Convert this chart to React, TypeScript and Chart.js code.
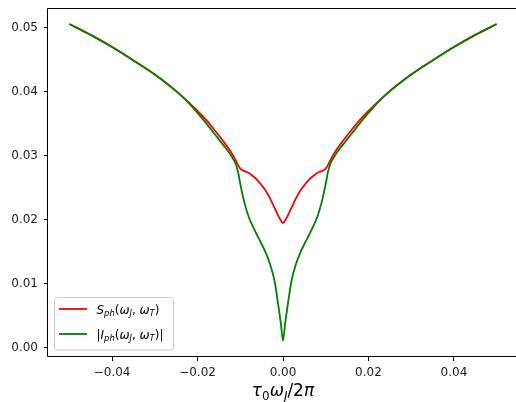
import React, { useEffect, useRef } from 'react';
import { Chart, registerables } from 'chart.js';

Chart.register(...registerables);

// τ0 ωJ / 2π values
const xValues = [
  -0.05, -0.045, -0.04, -0.035, -0.03, -0.025, -0.022, -0.02, -0.018, -0.016, -0.014, -0.012, -0.011, -0.0105,
  -0.01, -0.009, -0.008, -0.007, -0.006, -0.005, -0.004, -0.003, -0.002, -0.001, -0.0005, 0,
  0.0005, 0.001, 0.002, 0.003, 0.004, 0.005, 0.006, 0.007, 0.008, 0.009, 0.01,
  0.0105, 0.011, 0.012, 0.014, 0.016, 0.018, 0.02, 0.022, 0.025, 0.03, 0.035, 0.04, 0.045, 0.05,
];

// S_ph(ωJ, ωT)
const sphValues = [
  0.0506, 0.0489, 0.047, 0.0449, 0.0427, 0.0401, 0.0383, 0.037, 0.0356, 0.034, 0.0323, 0.0304, 0.0292, 0.0285,
  0.028, 0.0276, 0.0273, 0.0268, 0.0262, 0.0254, 0.0245, 0.0233, 0.0219, 0.0205, 0.0199, 0.0195,
  0.0199, 0.0205, 0.0219, 0.0233, 0.0245, 0.0254, 0.0262, 0.0268, 0.0273, 0.0276, 0.028,
  0.0285, 0.0292, 0.0304, 0.0323, 0.034, 0.0356, 0.037, 0.0383, 0.0401, 0.0427, 0.0449, 0.047, 0.0489, 0.0506,
];

// |I_ph(ωJ, ωT)|
const iphValues = [
  0.0506, 0.0489, 0.047, 0.0449, 0.0427, 0.0401, 0.0382, 0.0367, 0.0351, 0.0334, 0.0317, 0.0299, 0.0286, 0.0274,
  0.0256, 0.0226, 0.0204, 0.0189, 0.0175, 0.0162, 0.0148, 0.013, 0.0105, 0.0062, 0.0038, 0.0011,
  0.0038, 0.0062, 0.0105, 0.013, 0.0148, 0.0162, 0.0175, 0.0189, 0.0204, 0.0226, 0.0256,
  0.0274, 0.0286, 0.0299, 0.0317, 0.0334, 0.0351, 0.0367, 0.0382, 0.0401, 0.0427, 0.0449, 0.047, 0.0489, 0.0506,
];

const xTicks = [-0.04, -0.02, 0, 0.02, 0.04];
const yTicks = [0, 0.01, 0.02, 0.03, 0.04, 0.05];

type Seg = { t: string; it?: boolean; sub?: boolean };
const sphLabel: Seg[] = [
  { t: 'S', it: true }, { t: 'ph', it: true, sub: true }, { t: '(' }, { t: 'ω', it: true }, { t: 'J', it: true, sub: true },
  { t: ', ' }, { t: 'ω', it: true }, { t: 'T', it: true, sub: true }, { t: ')' },
];
const iphLabel: Seg[] = [
  { t: '|' }, { t: 'I', it: true }, { t: 'ph', it: true, sub: true }, { t: '(' }, { t: 'ω', it: true }, { t: 'J', it: true, sub: true },
  { t: ', ' }, { t: 'ω', it: true }, { t: 'T', it: true, sub: true }, { t: ')|' },
];
const xTitle: Seg[] = [
  { t: 'τ', it: true }, { t: '0', sub: true }, { t: 'ω', it: true }, { t: 'J', it: true, sub: true }, { t: '/2' }, { t: 'π', it: true },
];

const FONT = '"DejaVu Sans", sans-serif';

function segWidth(ctx: CanvasRenderingContext2D, segs: Seg[], size: number) {
  let w = 0;
  for (const s of segs) {
    const fs = s.sub ? size * 0.7 : size;
    ctx.font = `${s.it ? 'oblique ' : ''}${fs}px ${FONT}`;
    w += ctx.measureText(s.t).width;
  }
  return w;
}

function drawSegs(ctx: CanvasRenderingContext2D, segs: Seg[], x: number, y: number, size: number) {
  let cx = x;
  ctx.textBaseline = 'alphabetic';
  ctx.textAlign = 'left';
  for (const s of segs) {
    const fs = s.sub ? size * 0.7 : size;
    ctx.font = `${s.it ? 'oblique ' : ''}${fs}px ${FONT}`;
    ctx.fillText(s.t, cx, s.sub ? y + size * 0.22 : y);
    cx += ctx.measureText(s.t).width;
  }
}

const decorPlugin = {
  id: 'decor',
  afterDraw(chart: any) {
    const ctx: CanvasRenderingContext2D = chart.ctx;
    const a = chart.chartArea;
    ctx.save();
    // frame: left, top and bottom spines (right spine lies just past the visible edge)
    ctx.strokeStyle = '#000';
    ctx.lineWidth = 1;
    const L = Math.round(a.left) - 0.5;
    const T = Math.round(a.top) + 0.5;
    const B = Math.round(a.bottom) - 0.5;
    const R = chart.width;
    ctx.beginPath();
    ctx.moveTo(R, T);
    ctx.lineTo(L, T);
    ctx.lineTo(L, B);
    ctx.lineTo(R, B);
    ctx.stroke();

    // legend
    const lx = 54.5, ly = 297.5, lw = 119, lh = 52.5, r = 3;
    ctx.beginPath();
    ctx.moveTo(lx + r, ly);
    ctx.lineTo(lx + lw - r, ly);
    ctx.quadraticCurveTo(lx + lw, ly, lx + lw, ly + r);
    ctx.lineTo(lx + lw, ly + lh - r);
    ctx.quadraticCurveTo(lx + lw, ly + lh, lx + lw - r, ly + lh);
    ctx.lineTo(lx + r, ly + lh);
    ctx.quadraticCurveTo(lx, ly + lh, lx, ly + lh - r);
    ctx.lineTo(lx, ly + r);
    ctx.quadraticCurveTo(lx, ly, lx + r, ly);
    ctx.closePath();
    ctx.fillStyle = 'rgba(255,255,255,0.8)';
    ctx.fill();
    ctx.strokeStyle = '#cccccc';
    ctx.stroke();

    const entries: [string, Seg[], number][] = [
      ['#ff0000', sphLabel, 309],
      ['#008000', iphLabel, 334],
    ];
    for (const [col, segs, yy] of entries) {
      ctx.strokeStyle = col;
      ctx.lineWidth = 1.8;
      ctx.beginPath();
      ctx.moveTo(59, yy);
      ctx.lineTo(87, yy);
      ctx.stroke();
      ctx.fillStyle = '#000';
      drawSegs(ctx, segs, 96.5, yy + 4.5, 12);
    }

    // x title
    const size = 17;
    const w = segWidth(ctx, xTitle, size);
    const cxm = 283;
    drawSegs(ctx, xTitle, cxm - w / 2, 396, size);
    ctx.restore();
  },
};

export default function App() {
  const ref = useRef<HTMLCanvasElement>(null);
  useEffect(() => {
    const canvas = ref.current!;
    const fmt = (v: number) => {
      const s = Math.abs(v).toFixed(2);
      return v < -1e-9 ? '\u2212' + s : s;
    };
    const chart = new Chart(canvas, {
      type: 'line',
      data: {
        labels: xValues,
        datasets: [
          {
            label: 'S_ph',
            data: xValues.map((x, i) => ({ x, y: sphValues[i] })),
            borderColor: '#ff0000',
            borderWidth: 1.8,
            pointRadius: 0,
            cubicInterpolationMode: 'monotone',
            fill: false,
            order: 1,
          },
          {
            label: '|I_ph|',
            data: xValues.map((x, i) => ({ x, y: iphValues[i] })),
            borderColor: '#008000',
            borderWidth: 1.8,
            pointRadius: 0,
            cubicInterpolationMode: 'monotone',
            fill: false,
            order: 0,
          },
        ],
      },
      options: {
        animation: false,
        responsive: false,
        devicePixelRatio: 1,
        layout: { padding: { left: 0, top: 8, right: 0, bottom: 0 } },
        plugins: { legend: { display: false }, tooltip: { enabled: false } },
        scales: {
          x: {
            type: 'linear',
            min: -0.055,
            max: 0.05453,
            afterBuildTicks: (s: any) => { s.ticks = xTicks.map((v) => ({ value: v })); },
            afterFit: (s: any) => { s.height = 45; s.paddingLeft = 0; s.paddingRight = 0; },
            border: { display: false },
            grid: { display: true, drawOnChartArea: false, drawTicks: true, tickLength: 4, color: '#000', tickColor: '#000' },
            ticks: {
              padding: 5,
              maxRotation: 0,
              autoSkip: false,
              color: '#1a1a1a',
              font: { family: FONT, size: 12 },
              callback: (v: any) => fmt(Number(v)),
            },
          },
          y: {
            type: 'linear',
            min: -0.00145,
            max: 0.0531,
            afterBuildTicks: (s: any) => { s.ticks = yTicks.map((v) => ({ value: v })); },
            afterFit: (s: any) => { s.width = 48; s.paddingTop = 0; s.paddingBottom = 0; },
            border: { display: false },
            grid: { display: true, drawOnChartArea: false, drawTicks: true, tickLength: 4, color: '#000', tickColor: '#000' },
            ticks: {
              padding: 6,
              autoSkip: false,
              color: '#1a1a1a',
              font: { family: FONT, size: 12 },
              callback: (v: any) => Number(v).toFixed(2),
            },
          },
        },
      },
      plugins: [decorPlugin],
    } as any);
    return () => chart.destroy();
  }, []);
  return (
    <div style={{ position: 'absolute', left: 0, top: 0, width: 516, height: 402, overflow: 'hidden', background: '#fff' }}>
      <canvas ref={ref} width={516} height={402} style={{ width: 516, height: 402, display: 'block' }} />
    </div>
  );
}
